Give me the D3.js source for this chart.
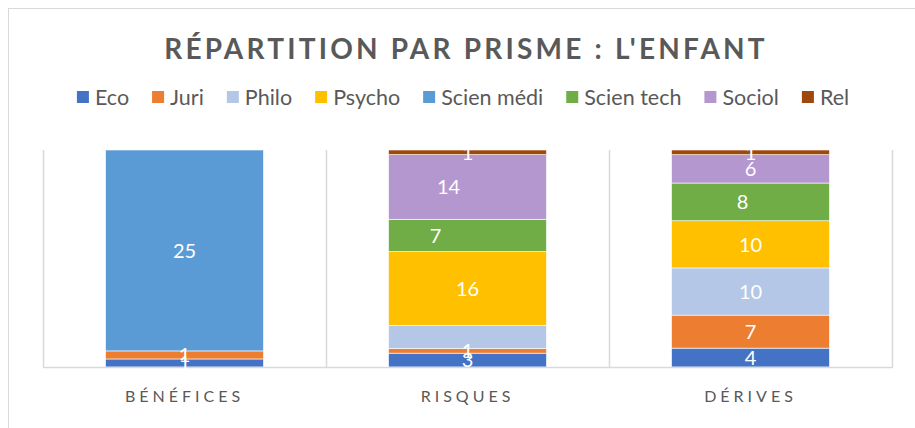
<!DOCTYPE html>
<html>
<head>
<meta charset="utf-8">
<script src="https://cdn.jsdelivr.net/npm/d3@7"></script>
<style>
  html, body { margin: 0; padding: 0; background: #fff; }
  svg { display: block; font-family: Lato, "Open Sans", sans-serif; }
</style>
</head>
<body>
<div id="chart"></div>
<script>
const width = 915;
const height = 428;

const categories = ['Bénéfices', 'Risques', 'Dérives'];
const series = ['Eco', 'Juri', 'Philo', 'Psycho', 'Scien médi', 'Scien tech', 'Sociol', 'Rel'];
const eco = [1, 3, 4];
const juri = [1, 1, 7];
const philo = [0, 5, 10];
const psycho = [0, 16, 10];
const scienMedi = [25, 0, 0];
const scienTech = [0, 7, 8];
const sociol = [0, 14, 6];
const rel = [0, 1, 1];
const colors = ['#4472c4', '#ed7d31', '#b4c7e7', '#ffc000', '#5b9bd5', '#70ad47', '#b597d0', '#9e480e'];

// labels that are not shown / moved in the original
const hiddenLabels = ['Risques|Philo'];
const labelShift = { 'Risques|Sociol': -19, 'Risques|Scien tech': -32, 'Dérives|Scien tech': -8 };

const values = [eco, juri, philo, psycho, scienMedi, scienTech, sociol, rel];
const table = categories.map((c, i) => {
    let row = { cat: c };
    series.forEach((s, j) => { row[s] = values[j][i]; });
    return row;
});

const plot = { left: 43, right: 892, top: 150, bottom: 367 };

const x = d3.scaleBand()
    .domain(categories)
    .range([plot.left, plot.right])
    .paddingInner(0.442)
    .paddingOuter(0.221);

const y = d3.scaleLinear()
    .domain([0, 1])
    .range([plot.bottom, plot.top]);

const color = d3.scaleOrdinal().domain(series).range(colors);

const stacked = d3.stack()
    .keys(series)
    .offset(d3.stackOffsetExpand)(table);

let svg = d3.select('#chart')
    .append('svg')
    .attr('width', width)
    .attr('height', height);

// chart frame
svg.append('rect')
    .attr('x', 8.5)
    .attr('y', 8.5)
    .attr('width', 1000)
    .attr('height', 1000)
    .attr('fill', '#fff')
    .attr('stroke', '#d9d9d9');

// title
svg.append('text')
    .attr('x', 466)
    .attr('y', 59)
    .attr('text-anchor', 'middle')
    .style('font-size', '28px')
    .style('font-weight', 'bold')
    .style('letter-spacing', '3.2px')
    .attr('fill', '#595959')
    .text("RÉPARTITION PAR PRISME : L'ENFANT");

// vertical gridlines at category edges
let edges = [plot.left].concat(categories.map(c => x(c) + x.bandwidth() + x.step() * x.paddingInner() / 2));
edges[edges.length - 1] = plot.right;
svg.append('g')
    .selectAll('line')
    .data(edges)
    .enter()
    .append('line')
    .attr('x1', d => Math.round(d) + 0.5)
    .attr('x2', d => Math.round(d) + 0.5)
    .attr('y1', plot.top)
    .attr('y2', plot.bottom)
    .attr('stroke', '#d9d9d9')
    .attr('stroke-width', 1.5);

// bars
let layers = svg.append('g')
    .selectAll('g')
    .data(stacked)
    .enter()
    .append('g')
    .attr('fill', d => color(d.key));

layers.selectAll('rect')
    .data(d => d.map(v => ({ key: d.key, cat: v.data.cat, y0: v[0], y1: v[1], value: v.data[d.key] })))
    .enter()
    .append('rect')
    .attr('x', d => x(d.cat))
    .attr('width', x.bandwidth())
    .attr('y', d => y(d.y1))
    .attr('height', d => y(d.y0) - y(d.y1))
    .attr('stroke', '#fff')
    .attr('stroke-width', d => d.value > 0 ? 0.6 : 0);

// baseline
svg.append('line')
    .attr('x1', plot.left)
    .attr('x2', plot.right + 1)
    .attr('y1', plot.bottom + 0.5)
    .attr('y2', plot.bottom + 0.5)
    .attr('stroke', '#d9d9d9')
    .attr('stroke-width', 1.5);

// data labels
let labels = [];
stacked.forEach(layer => {
    layer.forEach(v => {
        let val = v.data[layer.key];
        let id = v.data.cat + '|' + layer.key;
        if (val > 0 && hiddenLabels.indexOf(id) < 0) {
            labels.push({ id: id, cat: v.data.cat, mid: (v[0] + v[1]) / 2, value: val });
        }
    });
});

svg.append('g')
    .selectAll('text')
    .data(labels)
    .enter()
    .append('text')
    .attr('x', d => x(d.cat) + x.bandwidth() / 2 + (labelShift[d.id] || 0))
    .attr('y', d => y(d.mid))
    .attr('dy', '0.36em')
    .attr('text-anchor', 'middle')
    .attr('fill', '#fff')
    .style('font-size', '20px')
    .text(d => d.value);

// white cover above plot so labels don't spill out
svg.append('rect')
    .attr('x', plot.left - 5)
    .attr('y', 120)
    .attr('width', plot.right - plot.left + 10)
    .attr('height', plot.top - 120)
    .attr('fill', '#fff');

// category axis labels
let axis = d3.axisBottom(x).tickSize(0).tickPadding(0);
let gx = svg.append('g')
    .attr('transform', 'translate(0,' + plot.bottom + ')')
    .call(axis);
gx.select('.domain').remove();
gx.selectAll('text')
    .attr('y', 35)
    .attr('dy', 0)
    .attr('fill', '#595959')
    .style('font-family', 'Lato, "Open Sans", sans-serif')
    .style('font-size', '16px')
    .style('letter-spacing', '4px')
    .text(d => d.toUpperCase());

// legend
let legend = svg.append('g');
let items = legend.selectAll('g')
    .data(series)
    .enter()
    .append('g');
items.append('rect')
    .attr('width', 12)
    .attr('height', 12)
    .attr('y', -6)
    .attr('fill', d => color(d));
items.append('text')
    .attr('x', 18)
    .attr('dy', '0.35em')
    .attr('fill', '#595959')
    .style('font-size', '21.5px')
    .text(d => d);

let pos = 0;
let gap = 23;
items.each(function () {
    let w = this.getBBox().width;
    d3.select(this).attr('data-x', pos);
    pos += w + gap;
});
let total = pos - gap;
let start = 463 - total / 2;
items.attr('transform', function () {
    return 'translate(' + (start + (+d3.select(this).attr('data-x'))) + ',97)';
});
</script>
</body>
</html>
